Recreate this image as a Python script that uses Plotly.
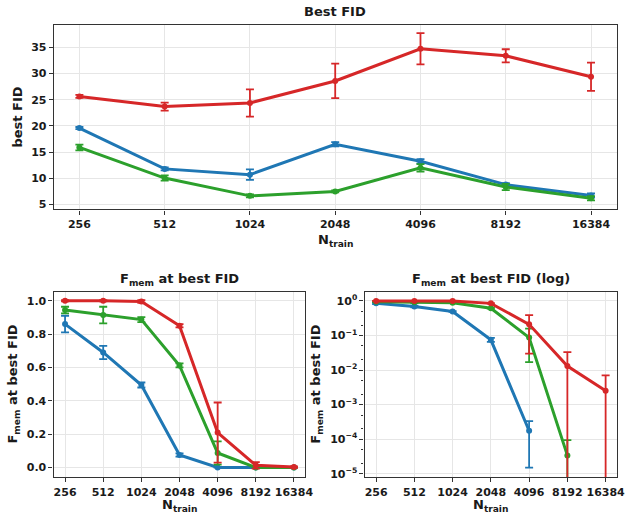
import plotly.graph_objects as go

n_train = ["256", "512", "1024", "2048", "4096", "8192", "16384"]

# Best FID per series
fid_red = [25.65, 23.7, 24.4, 28.6, 34.75, 33.4, 29.4]
fid_red_err = [0.3, 0.75, 2.6, 3.3, 3.0, 1.25, 2.7]
fid_blue = [19.6, 11.8, 10.7, 16.5, 13.25, 8.8, 6.7]
fid_blue_err = [0.2, 0.3, 1.0, 0.4, 0.4, 0.3, 0.4]
fid_green = [15.9, 10.05, 6.65, 7.5, 12.0, 8.35, 6.2]
fid_green_err = [0.55, 0.5, 0.3, 0.2, 0.7, 0.6, 0.4]

# F_mem at best FID per series
fmem_red = [1.0, 1.0, 0.995, 0.85, 0.21, 0.013, 0.0025]
fmem_red_err = [0.003, 0.003, 0.008, 0.01, 0.18, 0.02, 0.0045]
fmem_blue = [0.86, 0.69, 0.495, 0.075, 0.000175, 0.0, 0.0]
fmem_blue_err = [0.05, 0.04, 0.015, 0.01, 0.00016, 0.0, 0.0]
fmem_green = [0.944, 0.914, 0.887, 0.612, 0.087, 0.000034, 0.0]
fmem_green_err = [0.02, 0.05, 0.015, 0.012, 0.07, 0.00006, 0.0]

RED = "#d62728"
BLUE = "#1f77b4"
GREEN = "#2ca02c"

W, H = 633, 516
FONT = "DejaVu Sans"


def px(x):
    return x / W


def py(y):
    return 1 - y / H


fig = go.Figure()


def add_series(xa, ya, y, err, color):
    fig.add_trace(go.Scatter(
        x=n_train, y=y, xaxis=xa, yaxis=ya, mode="lines+markers",
        line=dict(color=color, width=3),
        marker=dict(color=color, size=6),
        error_y=dict(type="data", array=err, visible=True, color=color,
                     thickness=1.8, width=4),
        showlegend=False, cliponaxis=True,
    ))


def positive(vals):
    # zeros cannot be shown on a log axis (matplotlib masks them)
    return [v if v > 0 else None for v in vals]


add_series("x", "y", fid_red, fid_red_err, RED)
add_series("x", "y", fid_blue, fid_blue_err, BLUE)
add_series("x", "y", fid_green, fid_green_err, GREEN)

add_series("x2", "y2", fmem_blue, fmem_blue_err, BLUE)
add_series("x2", "y2", fmem_green, fmem_green_err, GREEN)
add_series("x2", "y2", fmem_red, fmem_red_err, RED)

add_series("x3", "y3", positive(fmem_blue), fmem_blue_err, BLUE)
add_series("x3", "y3", positive(fmem_green), fmem_green_err, GREEN)
add_series("x3", "y3", positive(fmem_red), fmem_red_err, RED)

axis_common = dict(
    showline=True, mirror=True, linecolor="#333333", linewidth=1.3,
    ticks="outside", ticklen=4, tickwidth=1, tickcolor="#333333",
    showgrid=True, gridcolor="#e6e6e6", gridwidth=1, zeroline=False,
    tickfont=dict(family=FONT, size=11, color="#1a1a1a", weight="bold"),
)

xcat = dict(type="category", range=[-0.3, 6.3], categoryorder="array",
            categoryarray=n_train, **axis_common)

fig.update_layout(
    width=W, height=H,
    margin=dict(l=0, r=0, t=0, b=0),
    paper_bgcolor="white", plot_bgcolor="white",
    font=dict(family=FONT, size=11, color="#1a1a1a", weight="bold"),
    xaxis=dict(domain=[px(54.5), px(624.5)], anchor="y", **xcat),
    yaxis=dict(domain=[py(210.7), py(24.7)], anchor="x", range=[4.05, 39.37],
               tickvals=[5, 10, 15, 20, 25, 30, 35], **axis_common),
    xaxis2=dict(domain=[px(54.3), px(309.3)], anchor="y2", **xcat),
    yaxis2=dict(domain=[py(480), py(293.3)], anchor="x2", range=[-0.058, 1.055],
                tickvals=[0, 0.2, 0.4, 0.6, 0.8, 1.0],
                ticktext=["0.0", "0.2", "0.4", "0.6", "0.8", "1.0"], **axis_common),
    xaxis3=dict(domain=[px(369.3), px(625)], anchor="y3", **xcat),
    yaxis3=dict(domain=[py(480), py(293.3)], anchor="x3", type="log",
                range=[-5.1, 0.27],
                tickvals=[1e-5, 1e-4, 1e-3, 1e-2, 1e-1, 1],
                ticktext=["10<sup>\u22125</sup>", "10<sup>\u22124</sup>", "10<sup>\u22123</sup>",
                          "10<sup>\u22122</sup>", "10<sup>\u22121</sup>", "10<sup>0</sup>"],
                minor=dict(ticks="outside", ticklen=2, tickcolor="#333333", showgrid=False),
                **axis_common),
)


def ann(text, x, y, size=13, angle=0):
    fig.add_annotation(text=text, x=px(x), y=py(y), xref="paper", yref="paper",
                       showarrow=False, textangle=angle, xanchor="center", yanchor="middle",
                       font=dict(family=FONT, size=size, color="#1a1a1a", weight="bold"))


ann("Best FID", 339.5, 12)
ann("F<sub>mem</sub> at best FID", 181.7, 281)
ann("F<sub>mem</sub> at best FID (log)", 497, 281)
ann("N<sub>train</sub>", 339.5, 242)
ann("N<sub>train</sub>", 181.7, 508)
ann("N<sub>train</sub>", 497, 508)
ann("best FID", 18, 117.5, angle=-90)
ann("F<sub>mem</sub> at best FID", 14, 386, angle=-90)
ann("F<sub>mem</sub> at best FID", 321, 386, angle=-90)

fig.write_html("out.html")
